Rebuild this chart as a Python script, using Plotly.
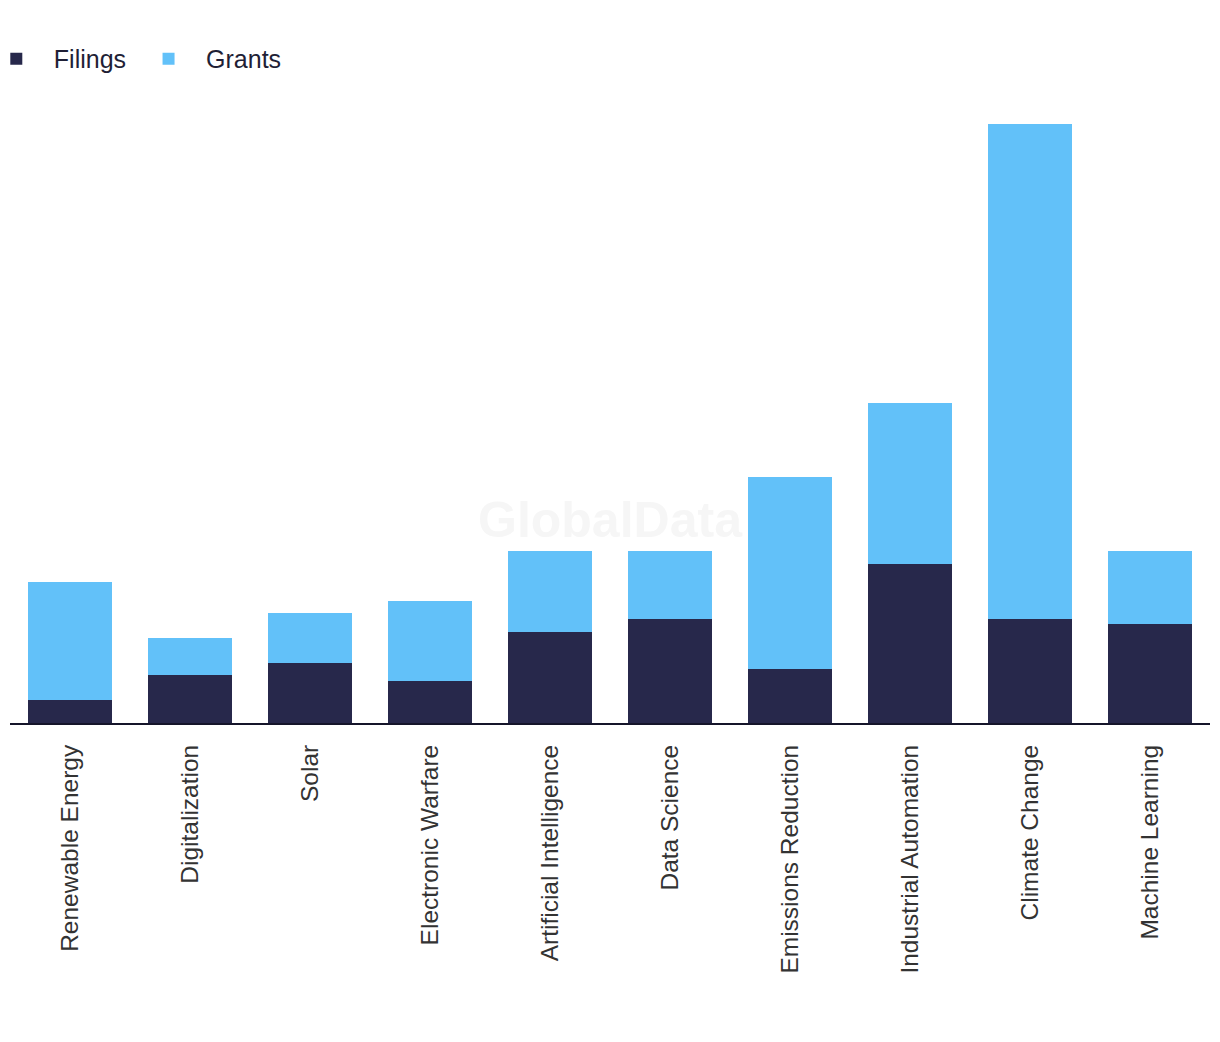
import plotly.graph_objects as go

categories = ["Renewable Energy", "Digitalization", "Solar", "Electronic Warfare",
              "Artificial Intelligence", "Data Science", "Emissions Reduction",
              "Industrial Automation", "Climate Change", "Machine Learning"]
filings = [23, 48, 60, 42, 91, 104, 54, 159, 104, 99]
grants = [118, 37, 50, 80, 81, 68, 192, 161, 495, 73]

fig = go.Figure()
fig.add_trace(go.Bar(name="Filings", x=categories, y=filings, marker_color="#27284B",
                     marker_line_width=0))
fig.add_trace(go.Bar(name="Grants", x=categories, y=grants, marker_color="#62C1F9",
                     marker_line_width=0))

fig.update_layout(
    width=1212, height=1034,
    barmode="stack", bargap=0.3,
    margin=dict(l=2, r=10, t=116, b=319, autoexpand=False),
    plot_bgcolor="white", paper_bgcolor="white",
    font=dict(family="Liberation Sans, Arial, sans-serif", color="#333333"),
    legend=dict(orientation="h", x=-0.026, xanchor="left", y=1.147, yanchor="top",
                traceorder="normal", itemwidth=65,
                font=dict(size=25, color="#1f1f36"), itemclick=False),
    xaxis=dict(showline=True, linecolor="#15152a", linewidth=2, ticks="",
               tickangle=-90, tickfont=dict(size=24.5, color="#333333"),
               ticklabelstandoff=10,
               showgrid=False, fixedrange=True, automargin=False),
    yaxis=dict(visible=False, range=[0, 599], showgrid=False, fixedrange=True,
               automargin=False),
    annotations=[dict(text="<b>GlobalData</b>", x=0.5, y=0.339, xref="paper", yref="paper",
                      showarrow=False, font=dict(size=50, color="#f6f6f6",
                                                 family="Liberation Sans, Arial, sans-serif"))],
)

fig.write_html("out.html")
